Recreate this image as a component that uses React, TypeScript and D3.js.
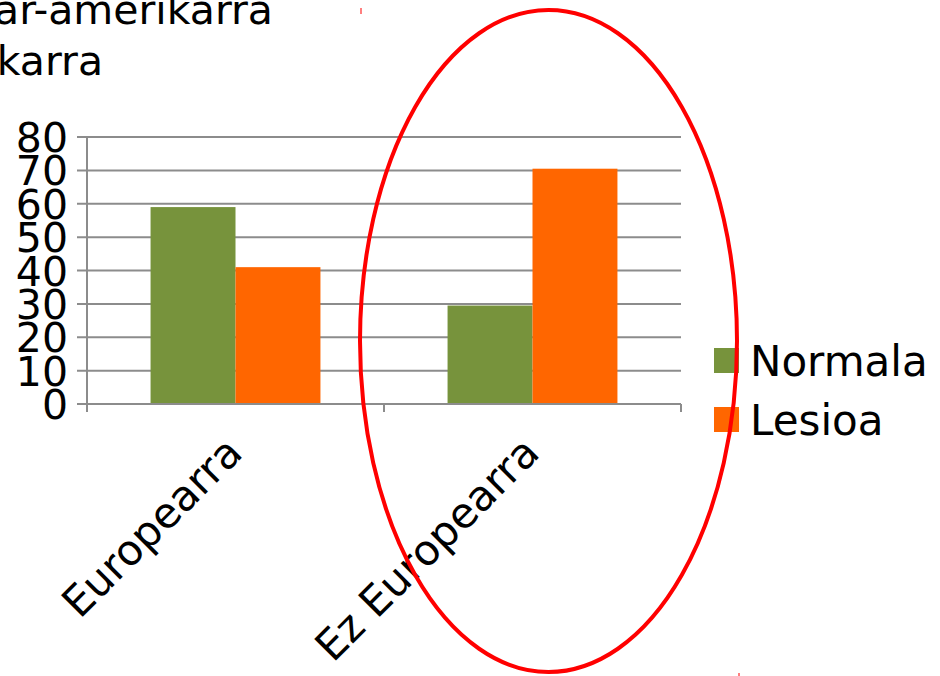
import * as d3 from 'd3'

// data
const categories = ['Europearra', 'Ez Europearra']
const seriesNames = ['Normala', 'Lesioa']
const normalaValues = [59, 29.5]
const lesioaValues = [41, 70.5]
const yTicks = [0, 10, 20, 30, 40, 50, 60, 70, 80]
const titleLines = ['Afrikar-amerikarra', 'Afrikarra']

const COLORS = ['#77933c', '#ff6600']
const FONT = '"DejaVu Sans", Verdana, sans-serif'
const WIDTH = 940
const HEIGHT = 676

const MARGIN = { top: 137, left: 87, right: 259, bottom: 272 }

export default function App() {
  const boundsWidth = WIDTH - MARGIN.left - MARGIN.right
  const boundsHeight = HEIGHT - MARGIN.top - MARGIN.bottom

  const x0 = d3.scaleBand<string>().domain(categories).range([0, boundsWidth]).padding(0)
  const bw = x0.bandwidth()
  const x1 = d3.scaleBand<string>().domain(seriesNames).range([bw * 0.214, bw * 0.786]).padding(0)
  const y = d3.scaleLinear().domain([0, 80]).range([boundsHeight, 0])
  const color = d3.scaleOrdinal<string, string>().domain(seriesNames).range(COLORS)

  const rows = categories.map((c, i) => ({ cat: c, values: [normalaValues[i], lesioaValues[i]] }))

  // ellipse annotation around second group
  const ell = { cx: 548.5, cy: 341, rx: 188.5, ry: 331 }

  const catEdges = [...categories.map((c) => x0(c) as number), boundsWidth]

  return (
    <svg
      width={WIDTH}
      height={HEIGHT}
      style={{ position: 'absolute', left: 0, top: 0, background: '#fff' }}
      fontFamily={FONT}
    >
      {/* title, cut off at the left edge */}
      <g fontSize={41} fill="#000" textAnchor="end">
        <text x={273} y={24}>{titleLines[0]}</text>
        <text x={103} y={75}>{titleLines[1]}</text>
      </g>

      <g transform={`translate(${MARGIN.left},${MARGIN.top})`}>
        {/* grid + y ticks */}
        {yTicks.map((t) => (
          <g key={t}>
            <line x1={-10} x2={boundsWidth} y1={y(t)} y2={y(t)} stroke="#8c8c8c" strokeWidth={2} />
            <text
              x={-19}
              y={y(t) + 15}
              textAnchor="end"
              fontSize={41}
              fill="#000"
            >
              {t}
            </text>
          </g>
        ))}

        {/* bars */}
        {rows.map((r) => (
          <g key={r.cat} transform={`translate(${x0(r.cat)},0)`}>
            {seriesNames.map((s, j) => (
              <rect
                key={s}
                x={x1(s)}
                y={y(r.values[j])}
                width={x1.bandwidth()}
                height={boundsHeight - y(r.values[j])}
                fill={color(s)}
              />
            ))}
          </g>
        ))}

        {/* axes */}
        <line x1={0} x2={0} y1={0} y2={boundsHeight + 8} stroke="#8c8c8c" strokeWidth={2} />
        <line x1={-10} x2={boundsWidth} y1={boundsHeight} y2={boundsHeight} stroke="#8c8c8c" strokeWidth={2} />
        {catEdges.map((e, i) => (
          <line key={i} x1={e} x2={e} y1={boundsHeight} y2={boundsHeight + 8} stroke="#8c8c8c" strokeWidth={2} />
        ))}

        {/* category labels */}
        {categories.map((c) => {
          const cx = (x0(c) as number) + bw / 2 + 9
          const cy = boundsHeight + 51
          return (
            <text
              key={c}
              transform={`translate(${cx},${cy}) rotate(-45)`}
              textAnchor="end"
              fontSize={42}
              fill="#000"
            >
              {c}
            </text>
          )
        })}
      </g>

      {/* legend */}
      <g transform="translate(714,348)">
        {seriesNames.map((s, i) => (
          <g key={s} transform={`translate(0,${i * 59})`}>
            <rect width={25} height={25} fill={color(s)} />
            <text x={36} y={28} fontSize={42} fill="#000">{s}</text>
          </g>
        ))}
      </g>

      {/* red ellipse annotation */}
      <ellipse cx={ell.cx} cy={ell.cy} rx={ell.rx} ry={ell.ry} fill="none" stroke="#ff0000" strokeWidth={4} />
      <rect x={ell.cx - ell.rx} y={ell.cy - ell.ry - 2} width={2} height={6} fill="#ff0000" opacity={0.5} />
      <rect x={ell.cx + ell.rx + 1} y={ell.cy + ell.ry + 1} width={2} height={4} fill="#ff0000" opacity={0.5} />
    </svg>
  )
}
